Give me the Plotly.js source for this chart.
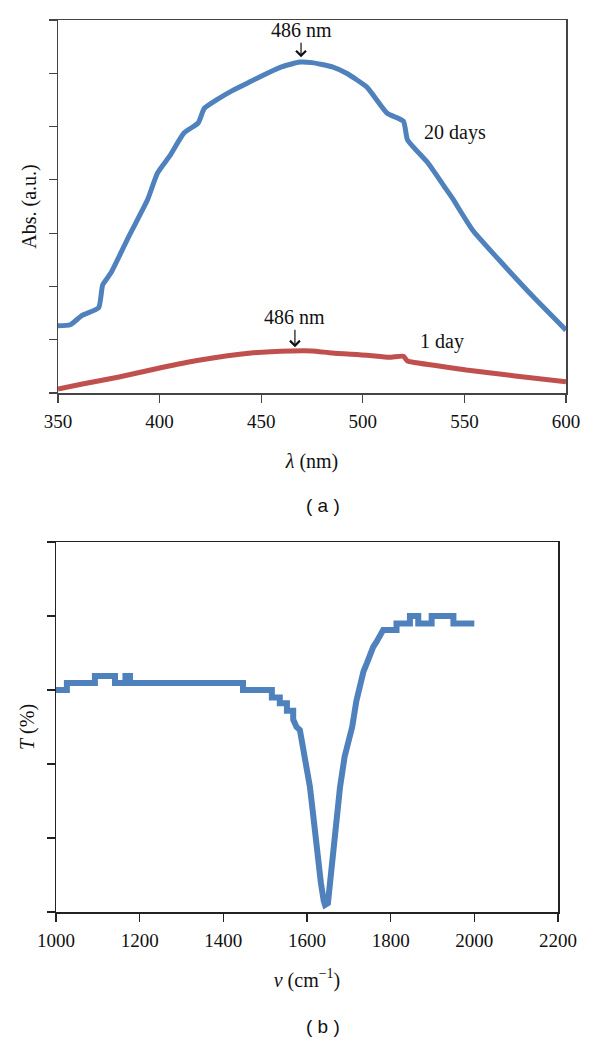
<!DOCTYPE html>
<html>
<head>
<meta charset="utf-8">
<script src="https://cdn.plot.ly/plotly-3.0.1.min.js"></script>
<style>
html,body{margin:0;padding:0;background:#fff;}
#chart{width:600px;height:1044px;}
</style>
</head>
<body>
<div id="chart"></div>
<script>
// ---- Panel (a): absorbance spectra ----
var lambda20 = [350, 356, 362, 370, 372, 376, 385, 394, 399, 405, 412, 419, 422, 428, 436, 445, 453, 460, 469, 475, 485, 492, 502, 512, 520, 522, 532, 540, 544, 554, 567, 584, 600];
var abs20    = [1.26, 1.28, 1.46, 1.6, 2.03, 2.25, 2.95, 3.62, 4.13, 4.45, 4.88, 5.07, 5.34, 5.5, 5.68, 5.85, 6.0, 6.12, 6.21, 6.2, 6.12, 6.0, 5.74, 5.25, 5.1, 4.75, 4.32, 3.88, 3.66, 3.06, 2.5, 1.8, 1.18];
var lambda1  = [350, 362, 380, 400, 420, 445, 465, 475, 485, 502, 513, 520, 522, 535, 551, 575, 600];
var abs1     = [0.075, 0.17, 0.30, 0.47, 0.62, 0.75, 0.79, 0.79, 0.75, 0.71, 0.67, 0.69, 0.6, 0.52, 0.43, 0.32, 0.21];
var seriesNamesA = ["20 days", "1 day"];
var peakLabel = "486 nm";

// ---- Panel (b): FTIR transmittance ----
var wavenumber = [1000, 1026, 1026, 1093, 1093, 1141, 1141, 1166, 1166, 1177, 1177, 1447, 1447, 1516, 1516, 1535, 1535, 1552, 1552, 1567, 1567, 1575, 1583, 1595, 1607, 1615, 1624, 1633, 1640, 1643, 1650, 1655, 1662, 1670, 1679, 1690, 1700, 1708, 1718, 1727, 1735, 1743, 1750, 1758, 1766, 1774, 1782, 1814, 1814, 1846, 1846, 1866, 1866, 1898, 1898, 1950, 1950, 2000];
var transmit   = [3.0, 3.0, 3.095, 3.095, 3.19, 3.19, 3.095, 3.095, 3.19, 3.19, 3.095, 3.095, 3.0, 3.0, 2.9, 2.9, 2.82, 2.82, 2.72, 2.72, 2.6, 2.5, 2.46, 2.1, 1.69, 1.3, 0.8, 0.4, 0.15, 0.095, 0.12, 0.4, 0.8, 1.25, 1.69, 2.1, 2.35, 2.5, 2.85, 3.09, 3.25, 3.36, 3.48, 3.58, 3.65, 3.72, 3.81, 3.81, 3.9, 3.9, 4.0, 4.0, 3.9, 3.9, 4.0, 4.0, 3.9, 3.9];

var serif = "Liberation Serif";
var blue = "#4F81BD", red = "#C0504D";

var traces = [
  {x: lambda20, y: abs20, name: seriesNamesA[0], type: "scatter", mode: "lines",
   line: {color: blue, width: 5, shape: "spline", smoothing: 0.5}, xaxis: "x", yaxis: "y", hoverinfo: "skip"},
  {x: lambda1, y: abs1, name: seriesNamesA[1], type: "scatter", mode: "lines",
   line: {color: red, width: 5, shape: "spline", smoothing: 0.5}, xaxis: "x", yaxis: "y", hoverinfo: "skip"},
  {x: wavenumber, y: transmit, name: "FTIR", type: "scatter", mode: "lines",
   line: {color: blue, width: 6}, xaxis: "x2", yaxis: "y2", hoverinfo: "skip"}
];

function axisBase(col) {
  return {
    showline: true, mirror: true, linecolor: col, linewidth: 1.5,
    ticks: "outside", ticklen: 8, tickwidth: 1.2, tickcolor: col,
    showgrid: false, zeroline: false, automargin: false,
    ticklabelstandoff: 3,
    tickfont: {family: serif, size: 19, color: "#111"}
  };
}
var titleFont = {family: serif, size: 20, color: "#111"};

var xa = Object.assign(axisBase("#444"), {
  domain: [58/600, 566/600], range: [350, 600], dtick: 50, tick0: 350, anchor: "y",
  title: {text: "<i>λ</i> (nm)", font: titleFont, standoff: 22}
});
var ya = Object.assign(axisBase("#444"), {
  domain: [(1044-393)/1044, (1044-20)/1044], range: [0, 7], dtick: 1, showticklabels: false, anchor: "x",
  title: {text: "Abs. (a.u.)", font: titleFont, standoff: 6}
});
var xb = Object.assign(axisBase("#222"), {
  domain: [56/600, 558/600], range: [1000, 2200], dtick: 200, tick0: 1000, anchor: "y2",
  title: {text: "<i>ν</i> (cm<sup>−1</sup>)", font: titleFont, standoff: 22}
});
var yb = Object.assign(axisBase("#222"), {
  domain: [(1044-912)/1044, (1044-542)/1044], range: [0, 5], dtick: 1, showticklabels: false, anchor: "x2",
  title: {text: "<i>T</i> (%)", font: titleFont, standoff: 6}
});

var annFont = {family: serif, size: 20, color: "#111"};
var labFont = {family: "Liberation Sans", size: 19, color: "#111"};
var layout = {
  width: 600, height: 1044,
  margin: {l: 0, r: 0, t: 0, b: 0},
  paper_bgcolor: "#fff", plot_bgcolor: "#fff",
  showlegend: false,
  xaxis: xa, yaxis: ya, xaxis2: xb, yaxis2: yb,
  annotations: [
    {xref: "x", yref: "y", x: 469.6, y: 6.30, text: peakLabel, showarrow: true,
     arrowhead: 4, arrowsize: 1.6, arrowwidth: 1.2, arrowcolor: "#111", ax: 0, ay: -27, font: annFont},
    {xref: "x", yref: "y", x: 466.6, y: 0.86, text: peakLabel, showarrow: true,
     arrowhead: 4, arrowsize: 1.6, arrowwidth: 1.2, arrowcolor: "#111", ax: 0, ay: -30, font: annFont},
    {xref: "x", yref: "y", x: 545.4, y: 4.88, text: seriesNamesA[0], showarrow: false, font: annFont},
    {xref: "x", yref: "y", x: 539, y: 0.96, text: seriesNamesA[1], showarrow: false, font: annFont},
    {xref: "paper", yref: "paper", x: 323/600, y: (1044-505)/1044, xanchor: "center", yanchor: "middle",
     text: "( a )", showarrow: false, font: labFont},
    {xref: "paper", yref: "paper", x: 323/600, y: (1044-1026)/1044, xanchor: "center", yanchor: "middle",
     text: "( b )", showarrow: false, font: labFont}
  ]
};

Plotly.newPlot("chart", traces, layout, {staticPlot: true, displayModeBar: false});
</script>
</body>
</html>
